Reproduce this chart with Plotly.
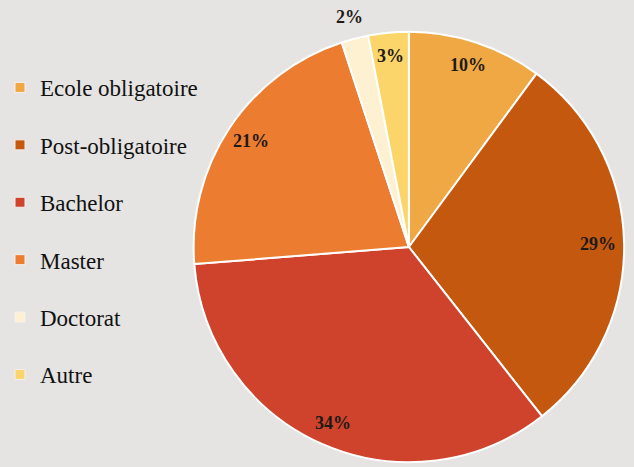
import math
import plotly.graph_objects as go

categories = ["Ecole obligatoire", "Post-obligatoire", "Bachelor", "Master", "Doctorat", "Autre"]
shares = [10, 29, 34, 21, 2, 3]
pct_labels = ["10%", "29%", "34%", "21%", "2%", "3%"]
colors = ["#EFA843", "#C4580F", "#CF432C", "#EC7C30", "#FDF1D2", "#FCD56A"]

W, H = 634, 467
cx, cy, R = 406, 247, 218  # pie centre / radius in pixels
bg = "#E5E4E3"

dom_x = [(cx - R) / W, (cx + R) / W]
dom_y = [(H - cy - R) / H, (H - cy + R) / H]

fig = go.Figure()
fig.add_trace(go.Pie(
    labels=categories, values=shares, sort=False, direction="clockwise", rotation=0,
    marker=dict(colors=colors, line=dict(color="white", width=2)),
    textinfo="none", showlegend=False, domain=dict(x=dom_x, y=dom_y),
    hoverinfo="label+percent",
))

# legend entries (one per category, own group for spacing)
for name, col in zip(categories, colors):
    fig.add_trace(go.Scatter(
        x=[None], y=[None], mode="markers", name=name, legendgroup=name,
        marker=dict(symbol="square", size=10, color=col, line=dict(color="#F4F1EC", width=1)),
        showlegend=True, hoverinfo="skip",
    ))

# percentage labels positioned from the data (Excel-like "inside end")
total = sum(shares)
cum = 0
annotations = []
for v, lab in zip(shares, pct_labels):
    f = (cum + v / 2) / total
    cum += v
    th = 2 * math.pi * f
    rf = 1.09 if v / total < 0.025 else 0.88
    px = cx + rf * R * math.sin(th)
    py = cy - rf * R * math.cos(th)
    annotations.append(dict(
        x=px / W, y=1 - py / H, xref="paper", yref="paper", text="<b>" + lab + "</b>", showarrow=False,
        font=dict(family="Liberation Serif", size=18, color="#1E1A17"),
        xanchor="center", yanchor="middle",
    ))

fig.update_layout(
    width=W, height=H, margin=dict(l=0, r=0, t=0, b=0),
    paper_bgcolor=bg, plot_bgcolor=bg,
    xaxis=dict(visible=False), yaxis=dict(visible=False),
    annotations=annotations,
    legend=dict(
        x=-0.013, y=1 - 66 / H, xanchor="left", yanchor="top",
        font=dict(family="Liberation Serif", size=23, color="#111111"),
        tracegroupgap=24.5, bgcolor="rgba(0,0,0,0)",
    ),
    showlegend=True,
)

fig.write_html("out.html", config={"displayModeBar": False},
               post_script="document.body.style.margin='0';")
